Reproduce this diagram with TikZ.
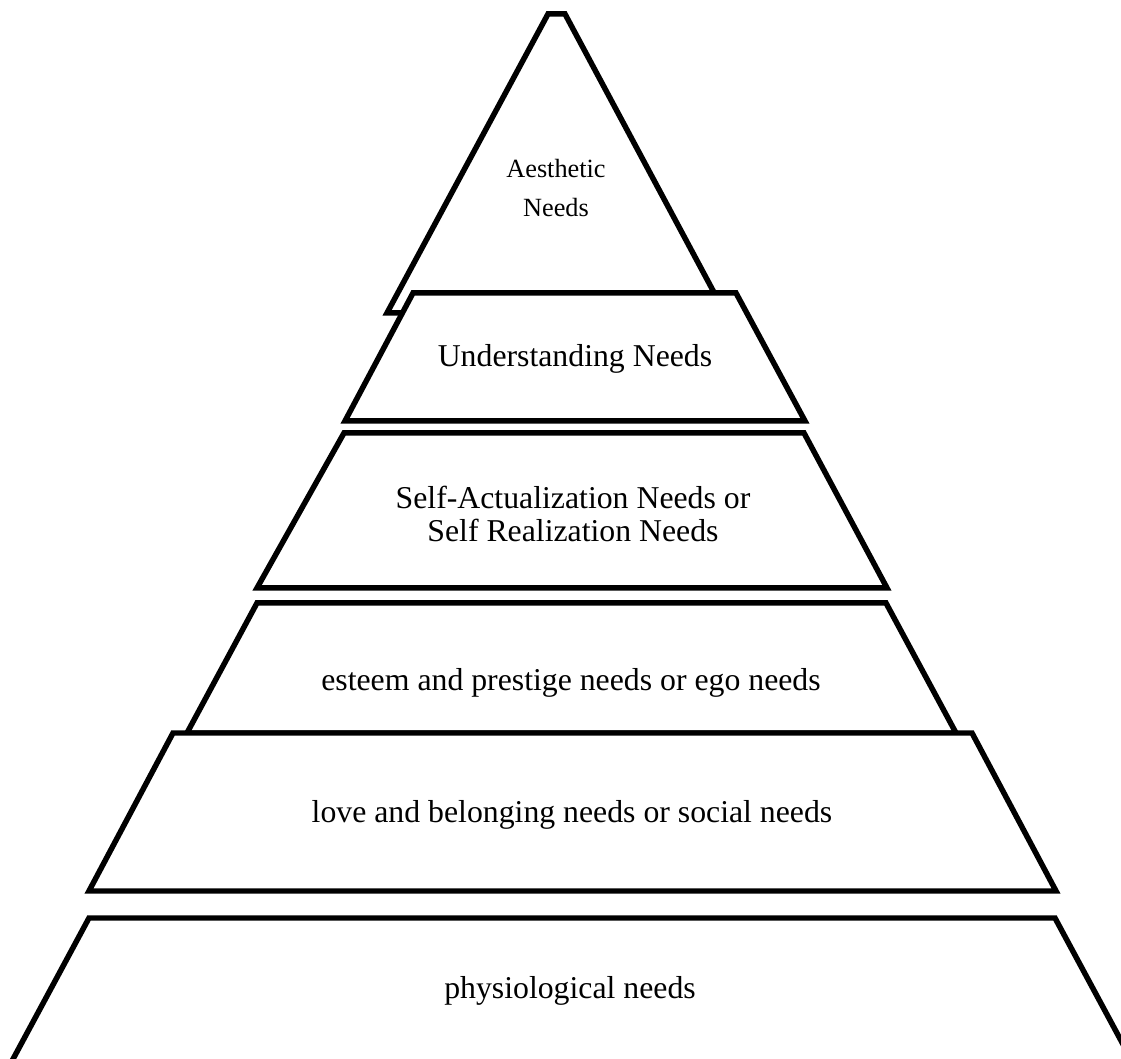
\documentclass[tikz,border=0pt]{standalone}
\usepackage{fontspec}
\setmainfont{Liberation Serif}
\tikzset{
  % Pyramid layer outline
  tier/.style={draw=black, line width=3.9pt, fill=white, line join=miter},
  % Layer labels
  tierlbl/.style={align=center, inner sep=0pt,
                  font=\fontsize{22.6}{23.5}\selectfont},
  toplbl/.style={align=center, inner sep=0pt,
                 font=\fontsize{18.7}{27.7}\selectfont},
}

\begin{document}
\begin{tikzpicture}[x=2.5cm,y=2.5cm]

    \clip (0,0) rectangle (11.21,10.59);

    % ── Top triangle ───────────────────────────────────────
    \draw[tier] (3.87,7.46) -- (5.48,10.45) -- (5.65,10.45)
          -- (7.25,7.46) -- cycle;
    \node[toplbl] (aesth) at (5.56,8.71) {Aesthetic\\Needs};

    % ── Understanding ──────────────────────────────────────
    \draw[tier] (4.13,7.66) -- (7.36,7.66) -- (8.05,6.38)
          -- (3.45,6.38) -- cycle;
    \node[tierlbl] (under) at (5.75,7.00) {Understanding Needs};

    % ── Self-actualization ─────────────────────────────────
    \draw[tier] (3.44,6.26) -- (8.04,6.26) -- (8.87,4.71)
          -- (2.57,4.71) -- cycle;
    \node[tierlbl] (selfact) at (5.73,5.45)
          {Self-Actualization Needs or\\Self Realization Needs};

    % ── Esteem ─────────────────────────────────────────────
    \draw[tier] (2.57,4.56) -- (8.86,4.56) -- (9.56,3.26)
          -- (1.87,3.26) -- cycle;
    \node[tierlbl] (esteem) at (5.71,3.76)
          {esteem and prestige needs or ego needs};

    % ── Love / belonging ───────────────────────────────────
    \draw[tier] (1.73,3.26) -- (9.72,3.26) -- (10.56,1.68)
          -- (0.89,1.68) -- cycle;
    \node[tierlbl] (love) at (5.72,2.44)
          {love and belonging needs or social needs};

    % ── Physiological (runs off the bottom) ────────────────
    \draw[tier] (0.89,1.41) -- (10.55,1.41) -- (11.39,-0.15)
          -- (0.05,-0.15) -- cycle;
    \node[tierlbl] (physio) at (5.70,0.68) {physiological needs};

\end{tikzpicture}
\end{document}
